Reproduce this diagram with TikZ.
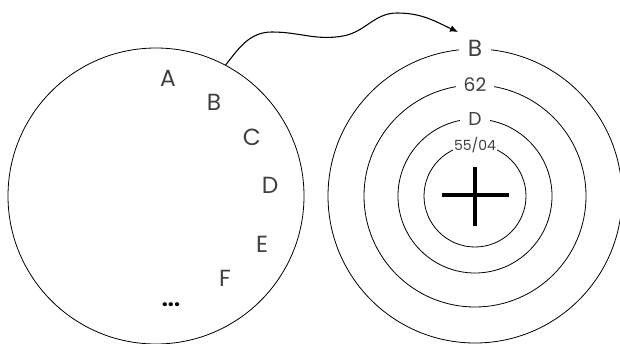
\documentclass[tikz,border=0pt]{standalone}
\usepackage{fontspec}
\setmainfont{Poppins}
\usetikzlibrary{arrows.meta}
\begin{document}
\begin{tikzpicture}[x=.75pt,y=.75pt,
                    ring/.style={circle,draw,line width=.6pt,inner sep=0pt},
                    letter/.style={text=black!75,font=\fontsize{17.5}{20}\selectfont},
                    ringlabel/.style={fill=white,text=black!75,inner ysep=1pt,inner xsep=6pt},
                    every node/.style={font=\small}]
 \useasboundingbox (0,0) rectangle (620,343);
 % set of values
 \node[ring,minimum size=222pt] (set) at (156,147) {};
 \node[letter] (la) at (168,265) {A};
 \node[letter] (lb) at (214,241) {B};
 \node[letter] (lc) at (252,206) {C};
 \node[letter] (ld) at (270,158) {D};
 \node[letter] (le) at (262,99) {E};
 \node[letter] (lf) at (225,65) {F};
 \node[font=\bfseries\fontsize{16}{18}\selectfont] (dots) at (171,38) {...};
 % target rings
 \node[ring,minimum size=220.5pt] (r1) at (475,147) {};
 \node[ring,minimum size=166.5pt] (r2) at (475,147) {};
 \node[ring,minimum size=115.5pt] (r3) at (475,147) {};
 \node[ring,minimum size=76.5pt] (r4) at (475,147) {};
 \node[ringlabel,font=\fontsize{17.5}{20}\selectfont,inner xsep=7pt] (tb) at (r1.north) {B};
 \node[ringlabel,font=\fontsize{14}{16}\selectfont] (t62) at (r2.north) {62};
 \node[ringlabel,font=\fontsize{14}{16}\selectfont] (td) at (r3.north) {D};
 \node[ringlabel,font=\fontsize{10.5}{12}\selectfont,inner xsep=1pt] (t55) at (r4.north) {55/04};
 \coordinate (cl) at (442,148); \coordinate (cr) at (509,148);
 \coordinate (ct) at (475,176); \coordinate (cb) at (475,117);
 \draw[line width=2.6pt] (cl)--(cr) (ct)--(cb);
 % pick
 \coordinate (tip) at (458,311);
 \draw[line width=.8pt,-{Latex[length=6pt,width=5pt]}] (set.62)
   to[out=52,in=180] (272,311) to[out=0,in=190] (343,307)
   to[out=10,in=180] (397,330) to[out=0,in=155] (tip);
\end{tikzpicture}
\end{document}
